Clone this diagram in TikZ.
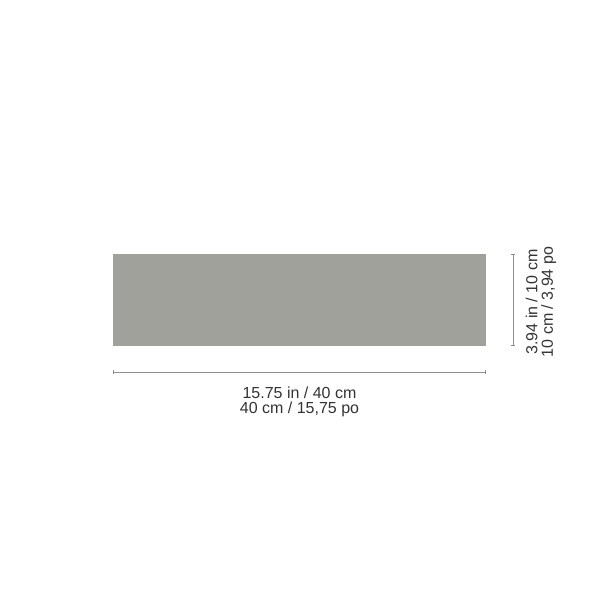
\documentclass[tikz,border=0pt]{standalone}
\usepackage{fontspec}
\setmainfont{Liberation Sans}
\usepackage{tikz}
\usetikzlibrary{arrows.meta}
\definecolor{panelgray}{HTML}{A1A19B}
\definecolor{dimgray}{HTML}{8E8E8E}
\definecolor{labelgray}{HTML}{333333}

\begin{document}
\begin{tikzpicture}[x=1pt,y=-1pt,
    dimline/.style={draw=dimgray,line width=0.8pt,{Bar[width=4pt]}-{Bar[width=4pt]}},
    dimlabel/.style={text=labelgray,font=\fontsize{16}{15.5}\selectfont,align=center,inner sep=0pt}]
        \useasboundingbox (0,0) rectangle (600,600);
        \coordinate (panelNW) at (113,254);
        \coordinate (panelSE) at (486,346);
        \fill[panelgray] (panelNW) rectangle (panelSE);
        % width
        \coordinate (wLeft) at (113,372);
        \coordinate (wRight) at (486,372);
        \draw[dimline] (wLeft) -- (wRight);
        \node[dimlabel] (wText) at (299.5,402) {15.75 in / 40 cm\\40 cm / 15,75 po};
        % height
        \coordinate (hTop) at (513,254);
        \coordinate (hBottom) at (513,346);
        \draw[dimline] (hTop) -- (hBottom);
        \node[dimlabel,rotate=90] (hText) at (541,302) {3.94 in / 10 cm\\10 cm / 3,94 po};
    \end{tikzpicture}
\end{document}
